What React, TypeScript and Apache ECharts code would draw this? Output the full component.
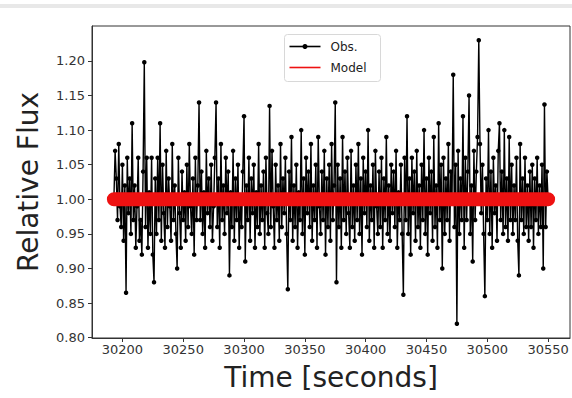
import React, { useEffect, useRef } from "react";
import * as echarts from "echarts";

const startTime = 30193;
const timeStep = 1;
const obsValues: number[] = [
  1.00, 1.07, 1.03, 0.97, 1.08, 0.99, 0.96, 1.05, 0.94, 1.02,
  0.865, 1.06, 0.98, 1.03, 0.95, 1.11, 0.97, 1.02, 0.93, 0.99,
  1.06, 0.94, 0.97, 0.92, 1.04, 1.198, 0.96, 1.06, 0.93, 1.01,
  0.95, 1.06, 0.92, 0.88, 1.03, 0.95, 1.06, 0.97, 1.11, 0.94,
  1.05, 0.98, 0.93, 1.07, 0.96, 1.03, 0.99, 0.94, 1.08, 0.97,
  1.02, 0.95, 0.90, 1.06, 0.98, 0.93, 1.04, 0.97, 1.01, 0.94,
  1.05, 0.96, 1.08, 0.99, 0.95, 1.03, 0.92, 1.06, 0.97, 1.02,
  1.14, 0.97, 1.04, 0.95, 1.01, 0.93, 1.07, 0.98, 1.03, 0.96,
  1.05, 0.94, 0.99, 1.06, 1.14, 0.96, 1.03, 0.93, 1.08, 0.97,
  1.02, 0.95, 1.06, 0.98, 1.04, 0.89, 1.01, 0.96, 1.07, 0.94,
  1.03, 0.97, 1.05, 0.93, 1.00, 0.96, 1.04, 1.12, 0.91, 1.02,
  0.97, 1.06, 0.94, 1.03, 0.98, 1.05, 0.93, 1.01, 0.96, 1.08,
  0.95, 1.02, 0.97, 1.04, 0.93, 1.06, 0.98, 0.95, 1.135, 0.96,
  1.07, 0.99, 0.93, 1.05, 0.97, 1.02, 0.94, 1.08, 0.96, 1.03,
  0.98, 1.06, 0.95, 0.87, 1.04, 0.97, 1.09, 0.94, 1.02, 0.96,
  1.05, 0.93, 1.01, 0.97, 1.10, 0.95, 1.03, 0.92, 1.06, 0.98,
  1.04, 0.96, 1.08, 0.94, 1.02, 0.97, 1.05, 0.93, 1.09, 0.99,
  0.95, 1.04, 0.97, 1.07, 0.92, 1.03, 0.96, 1.05, 0.94, 1.08,
  0.97, 1.02, 1.14, 0.88, 1.05, 0.96, 1.03, 0.93, 1.09, 0.97,
  1.04, 0.95, 1.06, 0.98, 0.93, 1.07, 0.96, 1.02, 0.94, 1.05,
  0.97, 1.08, 0.95, 1.03, 0.92, 1.06, 0.98, 1.04, 0.96, 1.10,
  0.94, 1.02, 0.97, 1.05, 0.93, 1.07, 0.99, 0.95, 1.04, 0.96,
  1.06, 0.93, 1.03, 0.97, 1.09, 0.95, 1.02, 0.94, 1.05, 0.98,
  1.04, 0.96, 1.07, 0.93, 1.01, 0.97, 1.05, 0.95, 0.862, 1.06,
  0.97, 1.12, 0.95, 1.03, 0.92, 1.06, 0.98, 1.04, 0.94, 1.07,
  0.96, 1.02, 0.93, 1.05, 0.97, 1.10, 0.95, 1.03, 0.92, 1.06,
  0.98, 1.04, 0.94, 1.09, 0.96, 1.02, 0.93, 1.11, 0.97, 1.05,
  0.90, 1.06, 0.95, 1.03, 0.97, 1.08, 0.94, 1.04, 1.00, 1.18,
  0.96, 1.05, 0.82, 1.07, 0.95, 1.03, 0.97, 1.12, 0.93, 1.06,
  0.97, 1.04, 1.15, 0.95, 1.02, 0.91, 1.07, 0.97, 1.04, 1.09,
  1.23, 1.08, 0.98, 1.05, 0.95, 0.86, 1.03, 0.97, 1.10, 0.95,
  1.04, 0.93, 1.06, 0.98, 1.02, 0.94, 1.07, 1.11, 0.97, 1.04,
  0.95, 1.10, 0.96, 1.03, 0.94, 1.09, 0.97, 1.05, 0.95, 1.02,
  0.97, 1.06, 0.94, 0.89, 1.08, 0.97, 1.03, 0.95, 1.06, 0.96,
  1.02, 0.94, 1.04, 0.96, 1.05, 0.93, 1.03, 0.97, 1.06, 0.95,
  1.02, 0.96, 1.05, 0.90, 1.137, 0.96, 1.04, 1.00,
];
const modelValue = 1.0;
const xTicks = [30200, 30250, 30300, 30350, 30400, 30450, 30500, 30550];
const yTicks = [0.8, 0.85, 0.9, 0.95, 1.0, 1.05, 1.1, 1.15, 1.2];

export default function App() {
  const ref = useRef<HTMLDivElement>(null);
  useEffect(() => {
    if (!ref.current) return;
    const chart = echarts.init(ref.current, null, { renderer: "svg" });
    const times = obsValues.map((_, i) => startTime + i * timeStep);
    const obsData = times.map((t, i) => [t, obsValues[i]]);
    const modelData = times.map((t) => [t, modelValue]);
    const font = "DejaVu Sans";
    chart.setOption({
      animation: false,
      backgroundColor: "#ffffff",
      grid: {
        left: 92,
        right: 2,
        top: 26,
        bottom: 60,
        show: true,
        borderColor: "#333",
        borderWidth: 1,
        backgroundColor: "transparent",
      },
      xAxis: {
        type: "value",
        min: 30175,
        max: 30568,
        name: "Time [seconds]",
        nameLocation: "middle",
        nameGap: 25,
        nameTextStyle: { fontFamily: font, fontSize: 28, color: "#222" },
        axisLine: { show: true, onZero: false, lineStyle: { color: "#333" } },
        axisTick: { show: true, customValues: xTicks, length: 4, lineStyle: { color: "#333" } },
        axisLabel: {
          customValues: xTicks,
          fontFamily: font,
          fontSize: 13,
          color: "#333",
          margin: 5,
          formatter: (v: number) => String(Math.round(v)),
        },
        splitLine: { show: false },
      },
      yAxis: {
        type: "value",
        min: 0.7995,
        max: 1.2505,
        name: "Relative Flux",
        nameLocation: "middle",
        nameGap: 50,
        nameTextStyle: { fontFamily: font, fontSize: 28, color: "#222" },
        axisLine: { show: true, onZero: false, lineStyle: { color: "#333" } },
        axisTick: { show: true, customValues: yTicks, length: 4, lineStyle: { color: "#333" } },
        axisLabel: {
          customValues: yTicks,
          fontFamily: font,
          fontSize: 13,
          color: "#333",
          margin: 7,
          formatter: (v: number) => v.toFixed(2),
        },
        splitLine: { show: false },
      },
      series: [
        {
          name: "Obs.",
          type: "line",
          data: obsData,
          symbol: "circle",
          symbolSize: 4.5,
          showSymbol: true,
          showAllSymbol: true,
          lineStyle: { color: "#000", width: 1.4 },
          itemStyle: { color: "#000" },
          z: 2,
        },
        {
          name: "Model",
          type: "line",
          data: modelData,
          showSymbol: false,
          lineStyle: { color: "#ee1111", width: 14, cap: "round" },
          itemStyle: { color: "#ee1111" },
          z: 3,
        },
      ],
      graphic: [
        { type: "rect", shape: { x: 0, y: 4, width: 572, height: 4 }, style: { fill: "#e8e8e8" } },
        {
          type: "group",
          left: 284,
          top: 34,
          z: 100,
          children: [
            {
              type: "rect",
              shape: { x: 0, y: 0, width: 96, height: 47, r: 3 },
              style: { fill: "rgba(255,255,255,0.85)", stroke: "#d8d8d8", lineWidth: 1 },
            },
            { type: "line", shape: { x1: 5, y1: 12, x2: 36, y2: 12 }, style: { stroke: "#000", lineWidth: 1.6 } },
            { type: "circle", shape: { cx: 20.5, cy: 12, r: 2.5 }, style: { fill: "#000" } },
            {
              type: "text",
              x: 46,
              y: 12,
              style: { text: "Obs.", fontFamily: font, fontSize: 12, fill: "#222", verticalAlign: "middle" },
            },
            { type: "line", shape: { x1: 5, y1: 33, x2: 36, y2: 33 }, style: { stroke: "#ee1111", lineWidth: 1.6 } },
            {
              type: "text",
              x: 46,
              y: 33,
              style: { text: "Model", fontFamily: font, fontSize: 12, fill: "#222", verticalAlign: "middle" },
            },
          ],
        },
      ],
    });
    return () => chart.dispose();
  }, []);
  return (
    <div
      ref={ref}
      style={{ position: "fixed", left: 0, top: 0, width: 572, height: 398, background: "#fff" }}
    />
  );
}
